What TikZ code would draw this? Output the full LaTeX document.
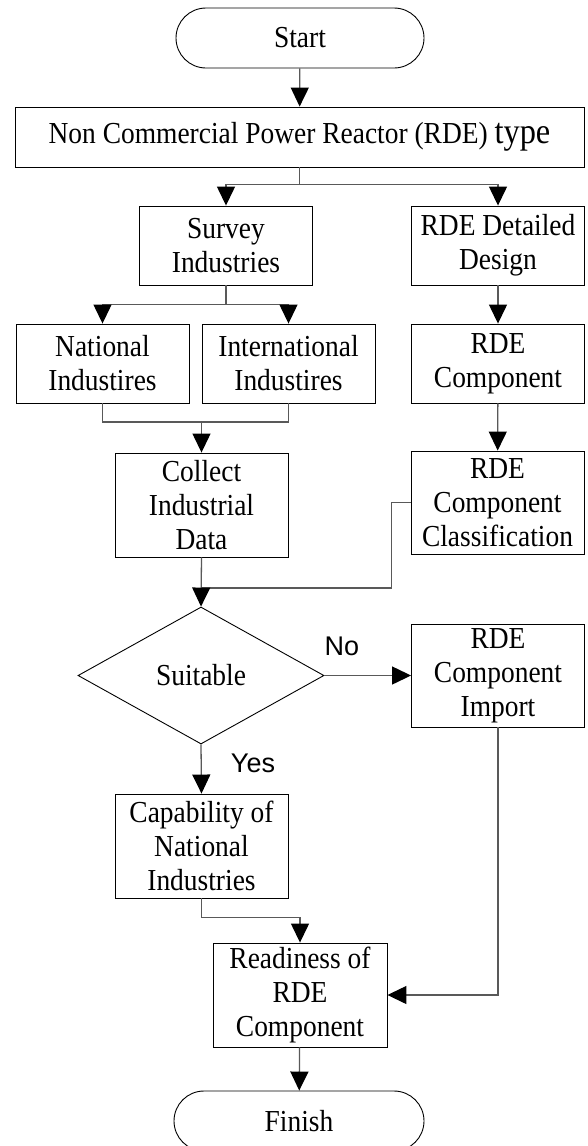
\documentclass[tikz,border=0pt]{standalone}
\usepackage{fontspec}
\setmainfont[FakeStretch=0.9]{Liberation Serif}
\newfontfamily\answerfont{Liberation Sans}
\usetikzlibrary{arrows.meta,shapes.geometric}

\begin{document}
\begin{tikzpicture}[x=1pt,y=-1pt,
box/.style ={rectangle, draw, line width=0.9pt, inner sep=0pt,
  align=center, minimum width=173pt,
  font=\fontsize{30.5}{34}\selectfont
},
twoline/.style ={box, minimum height=79pt},
threeline/.style ={box, minimum height=104pt},
terminal/.style ={rectangle, draw, line width=0.9pt, rounded corners=30pt,
  minimum width=248pt, minimum height=60pt,
  font=\fontsize{30.5}{34}\selectfont
},
decision/.style ={diamond, draw, line width=0.9pt, inner sep=0pt,
  minimum width=246pt, minimum height=137pt,
  font=\fontsize{30.5}{34}\selectfont
},
answer/.style ={font=\answerfont\fontsize{27}{32}\selectfont},
line/.style ={draw=black!65, line width=1.3pt},
arr/.style ={line, -{Triangle[length=19pt,width=18pt,color=black]}}
]
\useasboundingbox (0,0) rectangle (587,1146);

\node (start) at (300,38) [terminal] {Start};
\node (type) at (299.5,137) [box, minimum width=569pt, minimum height=60pt]
  {Non Commercial Power Reactor (RDE) {\fontsize{36}{34}\selectfont type}};

\node (survey) at (226,245.5) [twoline] {Survey\\Industries};
\node (detail) at (498,245.5) [twoline] {RDE Detailed\\Design};

\node (national) at (102.5,363.5) [twoline] {National\\Industires};
\node (intl) at (288.5,363.5) [twoline] {International\\Industires};
\node (comp) at (498,363.5) [twoline] {RDE\\Component};

\node (collect) at (201.5,505) [threeline] {Collect\\Industrial\\Data};
\node (classif) at (497.5,502.5) [threeline, minimum height=103pt]
  {RDE\\Component\\Classification};

\node (suit) at (201,675.5) [decision] {Suitable};
\node (import) at (498,675.5) [threeline, minimum height=103pt]
  {RDE\\Component\\Import};

\node (capab) at (201.5,846) [threeline] {Capability of\\National\\Industries};
\node (ready) at (300,995) [threeline, minimum width=174pt]
  {Readiness of\\RDE\\Component};
\node (finish) at (299,1121) [terminal, minimum width=250pt] {Finish};

\node (no) at (342,646) [answer] {No};
\node (yes) at (253,763) [answer] {Yes};

\coordinate (merge) at (201.5,422);
\coordinate (join) at (201.5,588);

\draw[arr] (start) -- (type);
\draw[arr] (type.south) -- ++(0,17) -| (survey.north);
\draw[arr] (type.south) -- ++(0,17) -| (detail.north);
\draw[arr] (survey.south) -- ++(0,19) -| (national.north);
\draw[arr] (survey.south) -- ++(0,19) -| (intl.north);
\draw[arr] (detail) -- (comp);
\draw[arr] (comp) -- (classif);

\draw[line] (national.south) |- (merge) -| (intl.south);
\draw[arr] (merge) -- (collect.north);

\draw[line] (classif.west) -- ++(-19,0) |- (join);
\draw[arr] (collect.south) -- (suit.north);

\draw[arr] (suit.east) -- (import.west);
\draw[arr] (suit.south) -- (capab.north);

\draw[arr] (capab.south) -- ++(0,19) -| (ready.north);
\draw[arr] (import.south) |- (ready.east);
\draw[arr] (ready) -- (finish);
\end{tikzpicture}
\end{document}
